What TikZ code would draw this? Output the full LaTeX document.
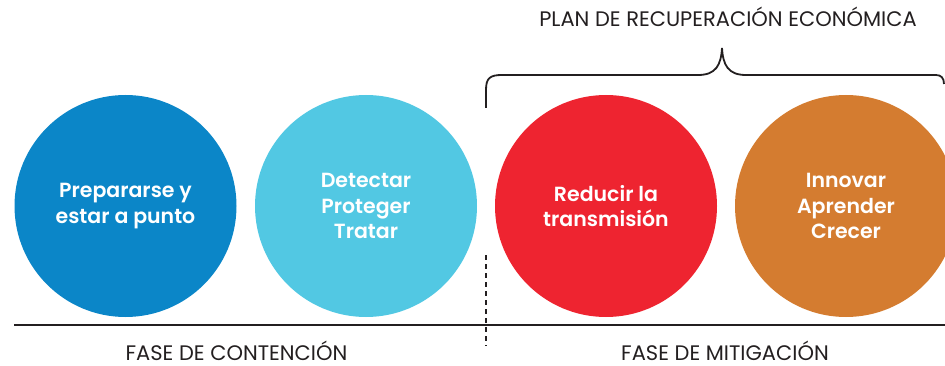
\documentclass[tikz,border=0pt]{standalone}
\usepackage{fontspec}
\setmainfont{Poppins}
\newfontfamily\semibf{Poppins SemiBold}
\usepackage{tikz}
\usetikzlibrary{positioning}

\definecolor{fasecont}{HTML}{0B86C8}
\definecolor{fasedet}{HTML}{52C8E3}
\definecolor{fasered}{HTML}{EE2430}
\definecolor{faseinn}{HTML}{D47C30}
\definecolor{lineink}{HTML}{231F20}

\begin{document}
\begin{tikzpicture}[
  x=1pt, y=-1pt,
  phase/.style={circle, minimum size=222pt, inner sep=0pt, text=white, align=center,
    font=\fontsize{20.5}{25.5}\selectfont\semibf},
  phaselabel/.style={text=lineink, inner sep=0pt, anchor=base, font=\fontsize{21}{24}\selectfont},
  rule/.style={draw=lineink, line width=1.6pt},
  divider/.style={draw=lineink, line width=2.4pt, dash pattern=on 5pt off 4pt}
]
  \useasboundingbox (0,0) rectangle (945,366);
  \clip (0,0) rectangle (945,366);
  % phases
  \node[phase, fill=fasecont] (prep) at (125.5,206) {Prepararse y\\estar a punto};
  \node[phase, fill=fasedet] (detect) at (366,206) {Detectar\\Proteger\\Tratar};
  \node[phase, fill=fasered] (reduce) at (606,206) {Reducir la\\transmisión};
  \node[phase, fill=faseinn] (innov) at (846,206) {Innovar\\Aprender\\Crecer};
  % baseline and divider
  \coordinate (lineL) at (14,325);
  \coordinate (lineR) at (945,325);
  \draw[rule] (lineL) -- (lineR);
  \coordinate (divTop) at (486,255);
  \coordinate (divBot) at (486,346);
  \draw[divider] (divTop) -- (divBot);
  % brace
  \coordinate (braceL) at (486,108);
  \coordinate (braceTip) at (722,48);
  \coordinate (braceR) at (944,84);
  \draw[rule, line width=1.8pt]
    (braceL) -- (486,90) .. controls (486,78) and (490,75) .. (502,75)
    -- (698,75) .. controls (716,75) and (721,65) .. (braceTip)
    .. controls (723,65) and (728,75) .. (746,75)
    -- (936,75) .. controls (941,75) and (944,78) .. (braceR);
  % labels
  \node[phaselabel] (planlbl) at (728,27) {PLAN DE RECUPERACIÓN ECONÓMICA};
  \node[phaselabel] (contlbl) at (236.5,360) {FASE DE CONTENCIÓN};
  \node[phaselabel] (mitlbl) at (725,360) {FASE DE MITIGACIÓN};
\end{tikzpicture}
\end{document}
